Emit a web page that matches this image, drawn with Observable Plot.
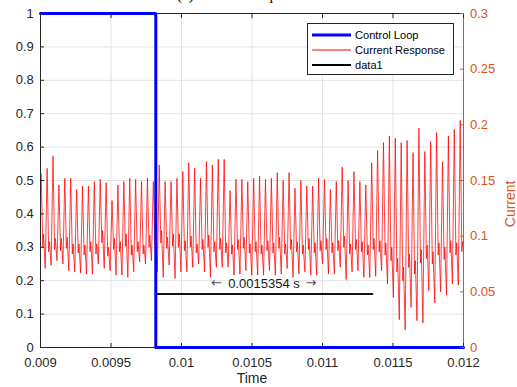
<!DOCTYPE html>
<html><head><meta charset="utf-8">
<script src="https://cdn.jsdelivr.net/npm/d3@7"></script>
<script src="https://cdn.jsdelivr.net/npm/@observablehq/plot@0.6"></script>
<style>
html,body{margin:0;padding:0;background:#fff;}
#wrap{position:relative;width:517px;height:387px;overflow:hidden;font-family:"Liberation Sans",Arial,sans-serif;}
#chart{position:absolute;left:0;top:0;}
#title{position:absolute;left:177px;top:-12px;font:15px/15px "Liberation Serif","Times New Roman",serif;color:#000;white-space:nowrap;}
#legend{position:absolute;left:307px;top:23px;width:145px;height:50px;border:1px solid #262626;background:#fff;}
.row{position:absolute;left:0;height:14px;width:145px;}
.row svg{position:absolute;left:4px;top:0;}
.row span{position:absolute;left:47px;top:0;font-size:11.1px;line-height:14px;color:#000;white-space:nowrap;}
</style></head><body>
<div id="wrap"><div id="chart"></div><div id="title">(c) Current Response</div><div id="legend"></div></div>
<script>
// ---- axes / ticks ----
const xTicks = [0.009, 0.0095, 0.01, 0.0105, 0.011, 0.0115, 0.012];
const leftTicks = [0, 0.1, 0.2, 0.3, 0.4, 0.5, 0.6, 0.7, 0.8, 0.9, 1];
const rightTicks = [0, 0.05, 0.1, 0.15, 0.2, 0.25, 0.3];
const rightMax = 0.3;
const xLabel = "Time";
const rightLabel = "Current";

// ---- Control Loop (left axis) ----
const controlTime = [0.009, 0.0098177, 0.0098177, 0.012];
const controlValue = [1, 1, 0, 0];

// ---- data1 marker (left axis) ----
const markerTime = [0.0098177, 0.0113531];
const markerValue = [0.1605, 0.1605];
const markerText = ["0.0015354 s"];
const markerArrows = ["\u2190", "\u2192"];

// ---- Current Response (right axis), one entry per oscillation cycle ----
const firstPeakTime = 0.009005;
const cyclePeriod = 4.1854e-5;
const currentPeaks = [
 0.156,0.161,0.172,0.146,0.152,0.152,0.142,0.145,0.145,0.149,0.151,0.148,0.132,0.146,0.149,0.152,0.151,0.149,0.152,0.149,0.164,0.149,0.149,0.152,
 0.158,0.166,0.161,0.152,0.167,0.164,0.169,0.169,0.141,0.151,0.151,0.149,0.152,0.154,0.151,0.152,0.157,0.150,0.157,0.143,0.150,0.145,0.145,0.152,
 0.151,0.142,0.149,0.162,0.150,0.158,0.149,0.146,0.166,0.177,0.184,0.190,0.188,0.184,0.186,0.175,0.197,0.176,0.185,0.193,0.167,0.190,0.196,0.204];
const currentDips = [
 0.090,0.086,0.088,0.087,0.089,0.084,0.085,0.083,0.086,0.084,0.094,0.082,0.088,0.086,0.091,0.083,0.086,0.084,0.090,0.093,0.094,0.089,0.091,0.090,
 0.087,0.090,0.085,0.088,0.090,0.086,0.088,0.085,0.084,0.088,0.089,0.085,0.086,0.084,0.087,0.085,0.089,0.084,0.088,0.086,0.084,0.088,0.085,0.087,
 0.088,0.085,0.087,0.090,0.084,0.088,0.086,0.083,0.088,0.086,0.083,0.078,0.068,0.060,0.072,0.066,0.076,0.080,0.075,0.083,0.079,0.085,0.083,0.086];
const currentBumps = [
 0.102,0.095,0.098,0.098,0.099,0.093,0.093,0.092,0.095,0.093,0.105,0.090,0.098,0.095,0.102,0.092,0.095,0.092,0.101,0.104,0.105,0.099,0.102,0.102,
 0.096,0.100,0.093,0.097,0.101,0.095,0.098,0.094,0.092,0.097,0.099,0.093,0.095,0.092,0.096,0.094,0.099,0.093,0.097,0.095,0.092,0.098,0.094,0.096,
 0.098,0.094,0.096,0.100,0.093,0.097,0.095,0.092,0.098,0.096,0.094,0.090,0.080,0.072,0.084,0.078,0.088,0.092,0.086,0.094,0.090,0.096,0.094,0.095];
const currentTroughs = [
 0.071,0.074,0.078,0.075,0.069,0.068,0.067,0.066,0.066,0.075,0.071,0.069,0.065,0.065,0.063,0.068,0.077,0.075,0.078,0.068,0.063,0.074,0.062,0.068,
 0.068,0.072,0.075,0.068,0.063,0.072,0.072,0.072,0.065,0.066,0.069,0.065,0.065,0.065,0.069,0.065,0.066,0.071,0.063,0.066,0.068,0.065,0.065,0.075,
 0.066,0.066,0.072,0.061,0.068,0.069,0.063,0.063,0.064,0.069,0.057,0.045,0.025,0.016,0.036,0.024,0.022,0.051,0.040,0.050,0.047,0.057,0.056,0.085];
const cyclePhase = {dip: 0.27, bump: 0.40, trough: 0.68};

// ---- legend ----
const legendLabels = ["Control Loop", "Current Response", "data1"];
const legendColors = ["#0000ff", "#ff0000", "#000000"];
const legendWidths = [3, 1, 2];

// build tables
const controlData = controlTime.map((t, i) => ({t, v: controlValue[i]}));
const markerData = markerTime.map((t, i) => ({t, v: markerValue[i]}));
const markerMid = (markerTime[0] + markerTime[1]) / 2;
const markerLabel = [{t: markerMid, v: markerValue[0], label: markerText[0]}];
const arrowLeft = [{t: markerMid, v: markerValue[0], label: markerArrows[0]}];
const arrowRight = [{t: markerMid, v: markerValue[0], label: markerArrows[1]}];
const toLeft = v => v / rightMax;
const currentData = [];
currentPeaks.forEach((p, i) => {
  const t = firstPeakTime + i * cyclePeriod;
  currentData.push({t, v: p});
  currentData.push({t: t + cyclePhase.dip * cyclePeriod, v: currentDips[i]});
  currentData.push({t: t + cyclePhase.bump * cyclePeriod, v: currentBumps[i]});
  currentData.push({t: t + cyclePhase.trough * cyclePeriod, v: currentTroughs[i]});
});

const fmt = d => String(+(+d).toFixed(6));
const gridColor = "#e3e3e3";
const axisColor = "#262626";
const rightColor = "#D95319";
const arrowStyle = {x: "t", y: "v", text: "label", dy: -10.8, fontSize: 13, fontFamily: "'DejaVu Sans', sans-serif", fill: "#555"};

const chart = Plot.plot({
  width: 517, height: 387,
  marginLeft: 40, marginRight: 54, marginTop: 13, marginBottom: 40,
  style: {fontFamily: "'Liberation Sans', Arial, sans-serif", fontSize: "13px", color: axisColor, background: "white", overflow: "visible"},
  x: {domain: [0.009, 0.012]},
  y: {domain: [0, 1]},
  marks: [
    Plot.gridX(xTicks, {stroke: gridColor, strokeOpacity: 1}),
    Plot.gridY(leftTicks.slice(1, -1), {stroke: gridColor, strokeOpacity: 1}),
    Plot.line(currentData, {x: "t", y: d => toLeft(d.v), stroke: "#ff0000", strokeWidth: 0.75, clip: true}),
    Plot.ruleX([0.009], {stroke: axisColor}),
    Plot.ruleX([0.012], {stroke: rightColor}),
    Plot.ruleY([0], {stroke: axisColor}),
    Plot.ruleY([1], {stroke: axisColor}),
    Plot.line(markerData, {x: "t", y: "v", stroke: "#111", strokeWidth: 2}),
    Plot.text(markerLabel, {x: "t", y: "v", text: "label", dy: -10.3, fontSize: 13, fill: "#1a1a1a"}),
    Plot.text(arrowLeft, {...arrowStyle, dx: -47.5}),
    Plot.text(arrowRight, {...arrowStyle, dx: 47}),
    Plot.line(controlData, {x: "t", y: "v", stroke: "#0000ff", strokeWidth: 3}),
    Plot.axisX(xTicks, {anchor: "bottom", tickSize: -4, tickPadding: 14.5, tickFormat: fmt, label: null, color: axisColor}),
    Plot.axisX(xTicks, {anchor: "top", tickSize: -4, tickFormat: () => "", label: null, color: axisColor}),
    Plot.axisY(leftTicks, {anchor: "left", tickSize: -4, tickPadding: 10.7, tickFormat: fmt, label: null, color: axisColor}),
    Plot.axisY(rightTicks.map(toLeft), {anchor: "right", tickSize: -4, tickPadding: 10.5, tickFormat: d => fmt(d * rightMax), label: null, color: rightColor}),
    Plot.text([xLabel], {frameAnchor: "bottom", dy: 35.5, fontSize: 14, fill: axisColor}),
    Plot.text([rightLabel], {frameAnchor: "right", rotate: -90, dx: 47, fontSize: 14, fill: rightColor})
  ]
});
document.getElementById("chart").appendChild(chart);

// legend
const legend = document.getElementById("legend");
const rowTops = [4, 19.3, 34.3];
legendLabels.forEach((lab, i) => {
  const row = document.createElement("div");
  row.className = "row";
  row.style.top = rowTops[i] + "px";
  row.innerHTML = `<svg width="40" height="14"><line x1="0" x2="39" y1="7" y2="7" stroke="${legendColors[i]}" stroke-width="${legendWidths[i]}"/></svg><span>${lab}</span>`;
  legend.appendChild(row);
});
</script>
</body></html>
